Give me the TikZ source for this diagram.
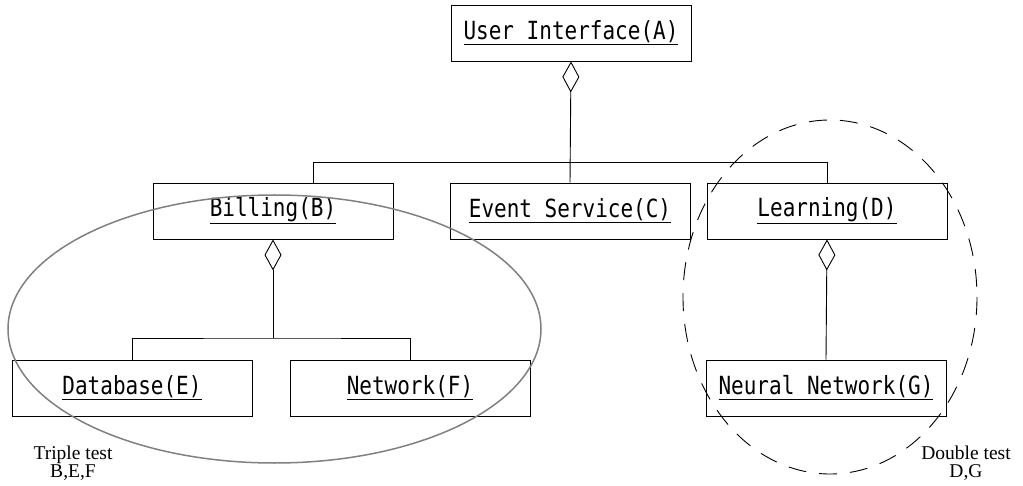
\documentclass[tikz,border=0pt]{standalone}
\usepackage{fontspec}
\setmainfont{Liberation Serif}
\newfontfamily\boxfont[FakeStretch=0.84]{DejaVu Sans Mono}
\usepackage{xcolor}
\definecolor{RingGray}{HTML}{808080}
\usetikzlibrary{arrows.meta}

\begin{document}
\begin{tikzpicture}[x=1pt,y=-1pt,
 cls/.style={draw,line width=0.9pt,minimum width=240pt,minimum height=56pt,inner sep=0pt,
  font=\boxfont\fontsize{25}{25}\selectfont},
 link/.style={draw,line width=0.9pt},
 agg/.style={link,{Diamond[open,length=31pt,width=17pt]}-},
 note/.style={align=center,inner sep=0pt,font=\fontsize{19.5}{17.5}\selectfont}]
\useasboundingbox (0,0) rectangle (1023,486);
\node[cls] (ui) at (571,33) {\underline{User Interface(A)}};
\node[cls] (bill) at (273,211) {\underline{Billing(B)}};
\node[cls] (event) at (570,211) {\underline{Event Service(C)}};
\node[cls] (learn) at (827,211) {\underline{Learning(D)}};
\node[cls] (db) at (132,388) {\underline{Database(E)}};
\node[cls] (net) at (410,388) {\underline{Network(F)}};
\node[cls] (nn) at (826,388) {\underline{Neural Network(G)}};
\coordinate (top bus) at (570,162);
\coordinate (low bus) at (273,338);
\draw[agg] (ui.south) -- (event.north);
\draw[link] ([xshift=40pt]bill.north) |- (learn.north |- top bus) -- (learn.north);
\draw[agg] (bill.south) -- (low bus);
\draw[link] (db.north) |- (low bus) -| (net.north);
\draw[agg] (learn.south) -- (nn.north);
% test groups
\draw[RingGray,line width=1.5pt] (274.5,329) ellipse[x radius=266.5,y radius=134];
\draw[line width=0.9pt,dash pattern=on 18pt off 13pt] (830,297) ellipse[x radius=147,y radius=177];
\node[note] (triple) at (73,463) {Triple test\\B,E,F};
\node[note] (double) at (966,463) {Double test\\D,G};
\end{tikzpicture}
\end{document}
